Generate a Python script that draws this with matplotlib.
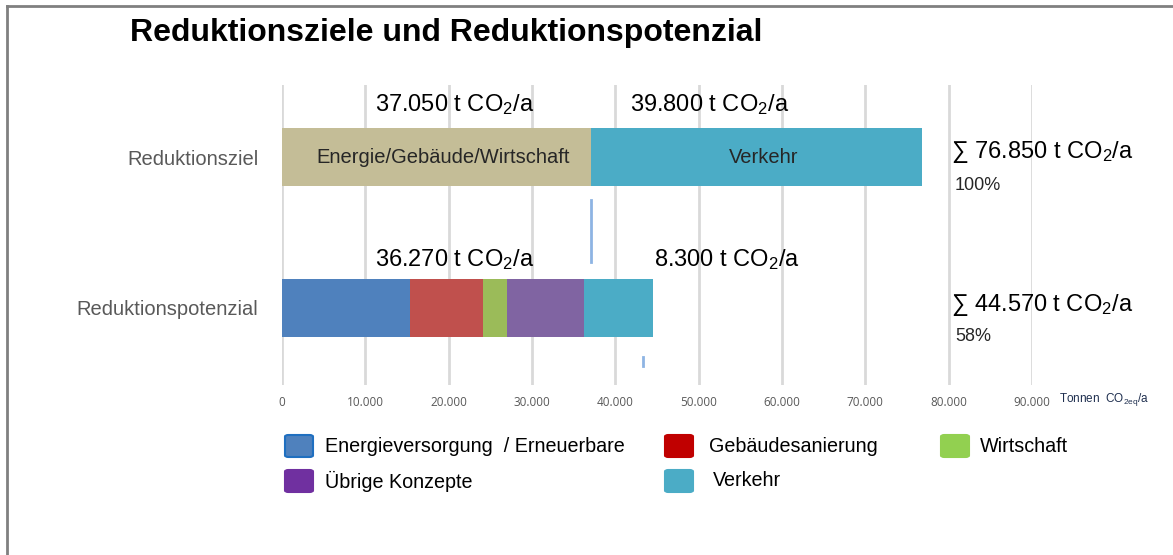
import matplotlib
matplotlib.use("Agg")
import matplotlib.pyplot as plt
from matplotlib.patches import FancyBboxPatch
from matplotlib.lines import Line2D

# Data (t CO2/a)
categories = ["Reduktionspotenzial", "Reduktionsziel"]

ziel_labels = ["Energie/Gebäude/Wirtschaft", "Verkehr"]
ziel_values = [37050, 39800]

pot_labels = ["Energieversorgung  / Erneuerbare", "Gebäudesanierung",
              "Wirtschaft", "Übrige Konzepte", "Verkehr"]
pot_values = [15300, 8800, 2900, 9270, 8300]

x_ticks = [0, 10000, 20000, 30000, 40000, 50000, 60000, 70000, 80000, 90000]
marker_x = [37050, 43300]   # the two thin blue marks in the original

ziel_colors = ["#C4BD97", "#4BACC6"]
pot_colors = ["#4F81BD", "#C0504D", "#9BBB59", "#8064A2", "#4BACC6"]
legend_colors = ["#4F81BD", "#C00000", "#92D050", "#7030A0", "#4BACC6"]
legend_edges = ["#1F6FC0", "#C00000", "#92D050", "#7030A0", "#4BACC6"]

FONT = ["Liberation Sans", "DejaVu Sans"]
plt.rcParams["font.family"] = FONT
plt.rcParams["mathtext.fontset"] = "custom"
plt.rcParams["mathtext.rm"] = "Liberation Sans"
plt.rcParams["mathtext.it"] = "Liberation Sans"
plt.rcParams["mathtext.bf"] = "Liberation Sans:bold"


def fmt(v):
    return f"{v:,}".replace(",", ".")


def co2(v):
    return fmt(v) + r" t CO$_2$/a"


W, H = 1173, 555
fig = plt.figure(figsize=(W / 100, H / 100), dpi=100)

# frame lines (top + left) like the pasted slide
fig.add_artist(Line2D([7 / W, 7 / W], [0, 1 - 6 / H], color="#808080", lw=2))
fig.add_artist(Line2D([7 / W, 1], [1 - 6 / H, 1 - 6 / H], color="#808080", lw=2))

ax = fig.add_axes([282 / W, 1 - 385 / H, 750 / W, 300 / H])
ax.set_xlim(0, 90000)
ax.set_ylim(-0.51, 1.477)

h = 0.385
# Reduktionsziel bar
left = 0
for lab, v, c in zip(ziel_labels, ziel_values, ziel_colors):
    ax.barh(1, v, left=left, height=h, color=c, zorder=3)
    ax.text(left + v / 2 + 800, 1, lab, ha="center", va="center",
            fontsize=14.5, color="#262626", zorder=4)
    left += v
ziel_total = left

# Reduktionspotenzial bar
left = 0
for lab, v, c in zip(pot_labels, pot_values, pot_colors):
    ax.barh(0, v, left=left, height=h, color=c, zorder=3)
    left += v
pot_total = left
pot_rest = sum(pot_values[:-1])

# thin marks
ax.plot([marker_x[0]] * 2, [0.305, 0.715], color="#8EB4E3", lw=2, zorder=3)
ax.plot([marker_x[1]] * 2, [-0.384, -0.325], color="#8EB4E3", lw=2, zorder=3)

# value labels above the bars
ax.text(20760, 1.35, co2(ziel_values[0]), ha="center", va="center", fontsize=17)
ax.text(51360, 1.35, co2(ziel_values[1]), ha="center", va="center", fontsize=17)
ax.text(20760, 0.318, co2(pot_rest), ha="center", va="center", fontsize=17)
ax.text(pot_total + 80, 0.318, co2(pot_values[-1]), ha="left", va="center", fontsize=17)

# sums on the right
ax.text(80300, 1.03, "∑ " + co2(ziel_total), ha="left", va="center",
        fontsize=17, clip_on=False)
ax.text(80760, 0.81, "100%", ha="left", va="center", fontsize=13,
        color="#262626", clip_on=False)
ax.text(80300, 0.02, "∑ " + co2(pot_total), ha="left", va="center",
        fontsize=17, clip_on=False)
ax.text(80760, -0.19, f"{round(pot_total / ziel_total * 100)}%", ha="left",
        va="center", fontsize=13, color="#262626", clip_on=False)

# axes styling
for s in ax.spines.values():
    s.set_visible(False)
ax.set_xticks(x_ticks)
ax.set_xticklabels([fmt(t) for t in x_ticks], fontsize=8.5, color="#595959",
                   family=["Open Sans", "DejaVu Sans"])
ax.tick_params(axis="x", length=0, pad=8)
ax.set_yticks([0, 1])
ax.set_yticklabels(categories, fontsize=14.5, color="#595959")
ax.tick_params(axis="y", length=0, pad=17)
ax.grid(axis="x", color="#D9D9D9", lw=2, zorder=0)
ax.text(1.036, -0.05, r"Tonnen  CO$_{2eq}$/a", transform=ax.transAxes,
        ha="left", va="center", fontsize=8.5, color="#1F2F4F", clip_on=False)

# title
fig.text(130 / W, 1 - 33 / H, "Reduktionsziele und Reduktionspotenzial",
         ha="left", va="center", fontsize=23, fontweight="bold")

# legend drawn by hand: (handle x, text x, row y) per entry, in pixels
slots = [(285, 325, 446), (665, 709, 446), (941, 980, 446),
         (285, 325, 481), (665, 713, 481)]
for (hx, tx, ry), lab, fc, ec in zip(slots, pot_labels, legend_colors, legend_edges):
    fig.add_artist(FancyBboxPatch((hx / W, 1 - (ry + 11) / H), 28 / W, 22 / H,
                                  boxstyle="round,pad=0,rounding_size=0.003",
                                  facecolor=fc, edgecolor=ec, lw=1.5))
    fig.text(tx / W, 1 - ry / H, lab, ha="left", va="center", fontsize=14.2)

fig.savefig("out.png", dpi=100)
